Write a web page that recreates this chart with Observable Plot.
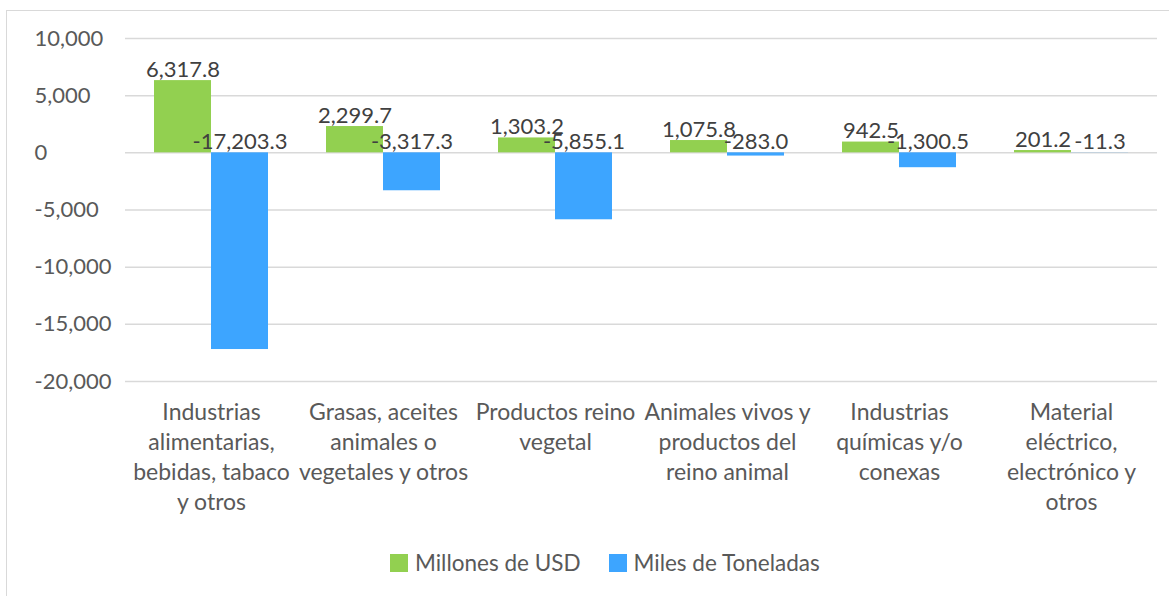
<!DOCTYPE html>
<html><head><meta charset="utf-8">
<script src="https://cdn.jsdelivr.net/npm/d3@7"></script>
<script src="https://cdn.jsdelivr.net/npm/@observablehq/plot@0.6"></script>
<style>
body{margin:0;background:#fff;font-family:Lato, sans-serif;}
#frame{position:absolute;left:6px;top:10px;width:1170px;height:590px;border:1px solid #d9d9d9;box-sizing:border-box;}
#legend{position:absolute;left:383px;top:538px;display:flex;align-items:center;font-family:Lato, sans-serif;font-size:22.5px;color:#595959;white-space:nowrap;}
#legend .item{display:flex;align-items:center;margin-right:28px;}
#legend .sw{width:18px;height:18px;margin-right:7px;}
</style></head><body>
<div id="frame"><div id="chart"></div><div id="legend"></div></div>
<script>
const categories = [
  "Industrias alimentarias, bebidas, tabaco y otros",
  "Grasas, aceites animales o vegetales y otros",
  "Productos reino vegetal",
  "Animales vivos y productos del reino animal",
  "Industrias químicas y/o conexas",
  "Material eléctrico, electrónico y otros"
];
const categoryLabels = [
  "Industrias\nalimentarias,\nbebidas, tabaco\ny otros",
  "Grasas, aceites\nanimales o\nvegetales y otros",
  "Productos reino\nvegetal",
  "Animales vivos y\nproductos del\nreino animal",
  "Industrias\nquímicas y/o\nconexas",
  "Material\neléctrico,\nelectrónico y\notros"
];
const series = ["Millones de USD", "Miles de Toneladas"];
const colors = ["#92D050", "#3DA5FF"];
const usd = [6317.8, 2299.7, 1303.2, 1075.8, 942.5, 201.2];
const ton = [-17203.3, -3317.3, -5855.1, -283.0, -1300.5, -11.3];
const yTicks = [10000, 5000, 0, -5000, -10000, -15000, -20000];

const data = [];
categories.forEach((c, i) => {
  data.push({category: c, series: series[0], value: usd[i]});
  data.push({category: c, series: series[1], value: ton[i]});
});
const locale = d3.formatLocale({decimal: ".", thousands: ",", grouping: [3], currency: ["$", ""], minus: "-"});
const fmt = locale.format(",.1f");
const tfmt = locale.format(",");

const chart = Plot.plot({
  width: 1160,
  height: 530,
  marginLeft: 118,
  marginRight: 10,
  marginTop: 27,
  marginBottom: 160,
  style: {fontFamily: "Lato, sans-serif", fontSize: "21px", color: "#595959", background: "transparent"},
  fx: {domain: categories, padding: 0, label: null},
  x: {domain: series, paddingInner: 0, paddingOuter: 0.5, axis: null},
  y: {domain: [-20000, 10000], label: null},
  color: {domain: series, range: colors},
  marks: [
    Plot.gridY(yTicks, {stroke: "#d9d9d9", strokeOpacity: 1, strokeWidth: 1.5}),
    Plot.axisY({ticks: yTicks, tickSize: 0, tickPadding: 0, textAnchor: "start", dx: -91, tickFormat: tfmt, fill: "#595959", fontSize: 22, label: null}),
    Plot.axisFx({anchor: "bottom", tickSize: 0, tickPadding: 17, lineHeight: 1.31, fontSize: 23, fill: "#595959", label: null,
      tickFormat: d => categoryLabels[categories.indexOf(d)]}),
    Plot.barY(data, {fx: "category", x: "series", y: "value", fill: "series"}),
    Plot.text(data, {fx: "category", x: "series", y: d => Math.max(0, d.value), text: d => fmt(d.value),
      lineAnchor: "bottom", dy: -4, fontSize: 22, fill: "#404040"})
  ]
});
document.getElementById("chart").appendChild(chart);

const legend = document.getElementById("legend");
series.forEach((s, i) => {
  const item = document.createElement("div");
  item.className = "item";
  const sw = document.createElement("div");
  sw.className = "sw";
  sw.style.background = colors[i];
  const t = document.createElement("span");
  t.textContent = s;
  item.appendChild(sw);
  item.appendChild(t);
  legend.appendChild(item);
});
</script>
</body></html>
